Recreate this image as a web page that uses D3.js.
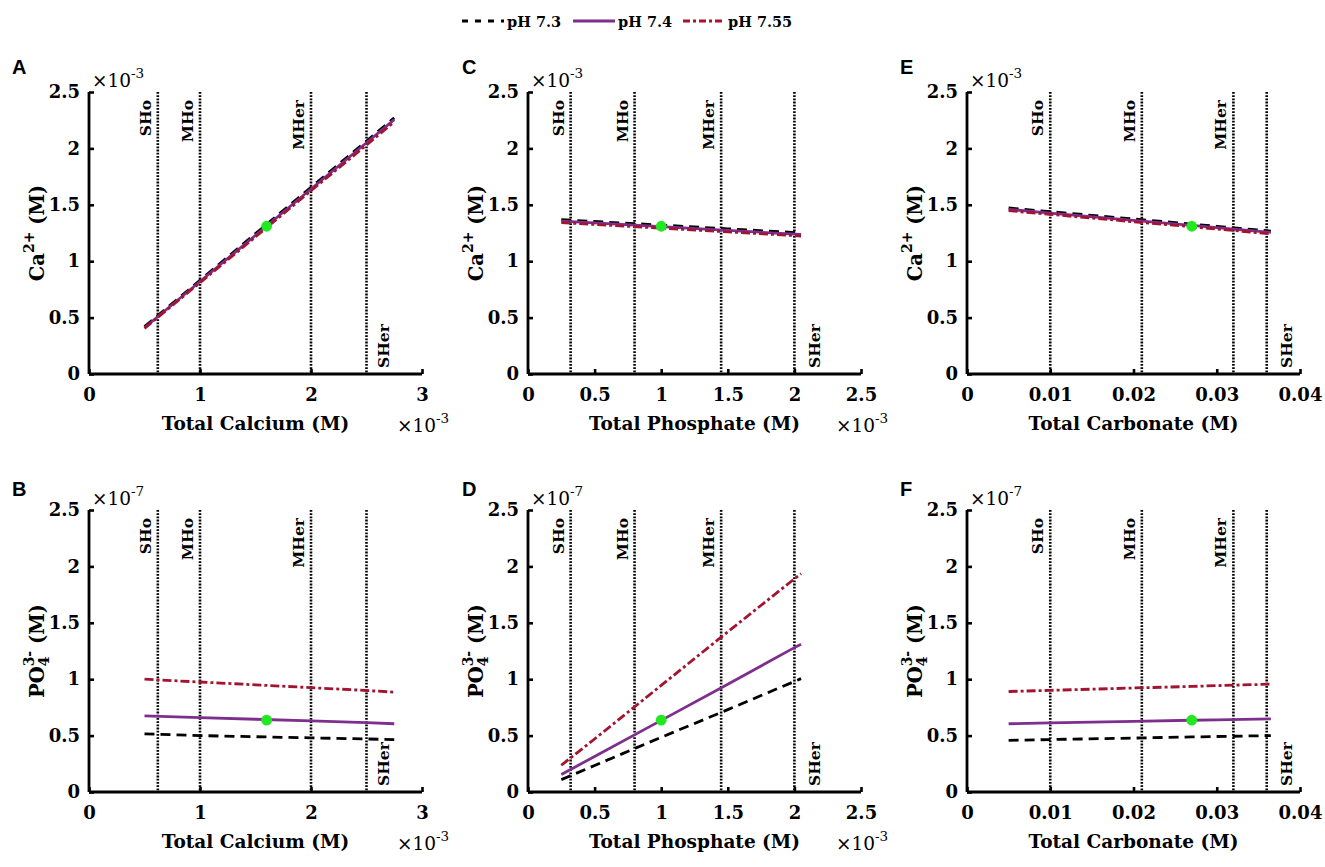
<!DOCTYPE html>
<html><head><meta charset="utf-8">
<script src="https://cdn.jsdelivr.net/npm/d3@7"></script>
<style>body{margin:0;background:#fff}</style>
</head><body>
<svg id="chart" width="1325" height="867"></svg>
<script>
// ---------- DATA ----------
const seriesNames = ["pH 7.3", "pH 7.4", "pH 7.55"];
const markerNames = ["SHo", "MHo", "MHer", "SHer"];

// x values (Calcium, Phosphate in 1e-3 M; Carbonate in M)
const totalCalcium   = [0.5, 1.0, 1.5, 2.0, 2.5, 2.75];
const totalPhosphate = [0.25, 0.5, 1.0, 1.5, 2.0, 2.05];
const totalCarbonate = [0.005, 0.01, 0.02, 0.027, 0.03, 0.0365];

// vertical marker positions
const calciumMarks   = [0.62, 1.0, 2.0, 2.5];
const phosphateMarks = [0.32, 0.8, 1.45, 2.0];
const carbonateMarks = [0.01, 0.021, 0.032, 0.036];

// A: Ca2+ (1e-3 M) vs Total Calcium
const caVsCalcium73  = [0.42, 0.83, 1.245, 1.655, 2.065, 2.27];
const caVsCalcium74  = [0.41, 0.82, 1.23, 1.64, 2.05, 2.255];
const caVsCalcium755 = [0.405, 0.81, 1.215, 1.625, 2.03, 2.235];
// B: PO4 3- (1e-7 M) vs Total Calcium
const po4VsCalcium73  = [0.515, 0.50, 0.49, 0.48, 0.47, 0.465];
const po4VsCalcium74  = [0.675, 0.66, 0.645, 0.63, 0.615, 0.605];
const po4VsCalcium755 = [1.0, 0.975, 0.95, 0.925, 0.90, 0.885];
// C: Ca2+ vs Total Phosphate
const caVsPhosphate73  = [1.368, 1.352, 1.32, 1.287, 1.254, 1.25];
const caVsPhosphate74  = [1.355, 1.339, 1.306, 1.273, 1.24, 1.237];
const caVsPhosphate755 = [1.342, 1.326, 1.293, 1.26, 1.227, 1.223];
// D: PO4 3- vs Total Phosphate
const po4VsPhosphate73  = [0.11, 0.235, 0.485, 0.73, 0.98, 1.005];
const po4VsPhosphate74  = [0.155, 0.315, 0.635, 0.955, 1.28, 1.31];
const po4VsPhosphate755 = [0.237, 0.47, 0.945, 1.42, 1.89, 1.935];
// E: Ca2+ vs Total Carbonate
const caVsCarbonate73  = [1.472, 1.439, 1.374, 1.329, 1.309, 1.267];
const caVsCarbonate74  = [1.46, 1.427, 1.362, 1.317, 1.297, 1.255];
const caVsCarbonate755 = [1.448, 1.415, 1.35, 1.305, 1.285, 1.243];
// F: PO4 3- vs Total Carbonate
const po4VsCarbonate73  = [0.458, 0.465, 0.478, 0.488, 0.492, 0.50];
const po4VsCarbonate74  = [0.605, 0.612, 0.626, 0.636, 0.64, 0.649];
const po4VsCarbonate755 = [0.891, 0.901, 0.922, 0.936, 0.943, 0.956];

// normal-condition points (green)
const normalCalcium = 1.6, normalPhosphate = 1.0, normalCarbonate = 0.027;
const normalCa = 1.31, normalPO4 = 0.637;

// axis ticks
const calciumTicks   = [0, 1, 2, 3];
const phosphateTicks = [0, 0.5, 1, 1.5, 2, 2.5];
const carbonateTicks = [0, 0.01, 0.02, 0.03, 0.04];
const yTicks         = [0, 0.5, 1, 1.5, 2, 2.5];

// ---------- STYLE / LAYOUT ----------
const colors = ["#000000", "#7E2F8E", "#A2142F"];
const dashes = ["10,6", null, "9,3,3,3"];
const lefts = [89, 528, 967], tops = [92, 510];
const W = 333, H = 282;
const serif = "'DejaVu Serif', serif";

const panels = [
  {id:"A", col:0, row:0, xs:totalCalcium, ys:[caVsCalcium73, caVsCalcium74, caVsCalcium755], dot:[normalCalcium, normalCa],
   xMax:3, xTicks:calciumTicks, marks:calciumMarks, xLabel:"Total Calcium (M)", yKind:"Ca", xExp:"-3", yExp:"-3", sherOff:22},
  {id:"B", col:0, row:1, xs:totalCalcium, ys:[po4VsCalcium73, po4VsCalcium74, po4VsCalcium755], dot:[normalCalcium, normalPO4],
   xMax:3, xTicks:calciumTicks, marks:calciumMarks, xLabel:"Total Calcium (M)", yKind:"PO4", xExp:"-3", yExp:"-7", sherOff:22},
  {id:"C", col:1, row:0, xs:totalPhosphate, ys:[caVsPhosphate73, caVsPhosphate74, caVsPhosphate755], dot:[normalPhosphate, normalCa],
   xMax:2.5, xTicks:phosphateTicks, marks:phosphateMarks, xLabel:"Total Phosphate (M)", yKind:"Ca", xExp:"-3", yExp:"-3", sherOff:26},
  {id:"D", col:1, row:1, xs:totalPhosphate, ys:[po4VsPhosphate73, po4VsPhosphate74, po4VsPhosphate755], dot:[normalPhosphate, normalPO4],
   xMax:2.5, xTicks:phosphateTicks, marks:phosphateMarks, xLabel:"Total Phosphate (M)", yKind:"PO4", xExp:"-3", yExp:"-7", sherOff:26},
  {id:"E", col:2, row:0, xs:totalCarbonate, ys:[caVsCarbonate73, caVsCarbonate74, caVsCarbonate755], dot:[normalCarbonate, normalCa],
   xMax:0.04, xTicks:carbonateTicks, marks:carbonateMarks, xLabel:"Total Carbonate (M)", yKind:"Ca", xExp:null, yExp:"-3", sherOff:25},
  {id:"F", col:2, row:1, xs:totalCarbonate, ys:[po4VsCarbonate73, po4VsCarbonate74, po4VsCarbonate755], dot:[normalCarbonate, normalPO4],
   xMax:0.04, xTicks:carbonateTicks, marks:carbonateMarks, xLabel:"Total Carbonate (M)", yKind:"PO4", xExp:null, yExp:"-7", sherOff:25},
];

const svg = d3.select("#chart");
svg.append("rect").attr("width",1325).attr("height",867).attr("fill","#fff");

function expLabel(g, x, y, exp) {
  const t = g.append("text").attr("x", x).attr("y", y)
    .attr("font-family", serif).attr("font-size", 18.5).attr("fill", "#000");
  t.append("tspan").text("\u00D710");
  t.append("tspan").attr("font-size", 13.5).attr("dy", -9).text(exp);
}

panels.forEach(p => {
  const L = lefts[p.col], T = tops[p.row];
  const g = svg.append("g").attr("transform", `translate(${L},${T})`);
  const x = d3.scaleLinear().domain([0, p.xMax]).range([0, W]);
  const y = d3.scaleLinear().domain([0, 2.5]).range([H, 0]);

  // vertical marker lines
  p.marks.forEach((m, i) => {
    g.append("line").attr("x1", x(m)).attr("x2", x(m)).attr("y1", 0).attr("y2", H)
      .attr("stroke", "#000").attr("stroke-width", 2.6).attr("stroke-dasharray", "1.8,1.4");
    const isLast = i === p.marks.length - 1;
    const tx = isLast ? x(m) + p.sherOff : x(m) - 7;
    const ty = isLast ? H - 6 : 8;
    g.append("text").attr("transform", `translate(${tx},${ty}) rotate(-90)`)
      .attr("text-anchor", isLast ? "start" : "end")
      .attr("font-family", serif).attr("font-weight", "bold").attr("font-size", 15.5)
      .text(markerNames[i]);
  });

  // series
  const line = d3.line().x((d, i) => x(p.xs[i])).y(d => y(d));
  p.ys.forEach((vals, k) => {
    g.append("path").datum(vals).attr("d", line)
      .attr("fill", "none").attr("stroke", colors[k]).attr("stroke-width", 2.8)
      .attr("stroke-dasharray", dashes[k]);
  });
  g.append("circle").attr("cx", x(p.dot[0])).attr("cy", y(p.dot[1])).attr("r", 5.4).attr("fill", "#22e822");

  // axes
  const xa = g.append("g").attr("transform", `translate(0,${H})`)
    .call(d3.axisBottom(x).tickValues(p.xTicks).tickSize(-5).tickPadding(14).tickFormat(d => String(d)));
  const ya = g.append("g")
    .call(d3.axisLeft(y).tickValues(yTicks).tickSize(-5).tickPadding(9).tickFormat(d => String(d)));
  [xa, ya].forEach(a => {
    a.select(".domain").attr("stroke", "#000").attr("stroke-width", 2.8).attr("d",
      a === xa ? `M0,0H${W}` : `M0,0V${H}`);
    a.selectAll(".tick line").attr("stroke", "#000").attr("stroke-width", 2.6);
    a.selectAll(".tick text").attr("font-family", serif).attr("font-weight", "bold")
      .attr("font-size", 18).attr("fill", "#000");
  });

  // x label
  g.append("text").attr("x", W / 2).attr("y", H + 56).attr("text-anchor", "middle")
    .attr("font-family", serif).attr("font-weight", "bold").attr("font-size", 18.5).text(p.xLabel);

  // exponent labels
  if (p.xExp) expLabel(g, W - 25, H + 58, p.xExp);
  expLabel(g, 3, -5, p.yExp);

  // y label
  const yl = g.append("g").attr("transform", `translate(${-45},${H / 2}) rotate(-90)`);
  const t = yl.append("text").attr("x", 0).attr("y", 0)
    .attr("font-family", serif).attr("font-weight", "bold").attr("font-size", 19.5).attr("fill", "#000");
  if (p.yKind === "Ca") {
    t.append("tspan").text("Ca");
    t.append("tspan").attr("font-size", 14).attr("dy", -10).text("2+");
    t.append("tspan").attr("dy", 10).text(" (M)");
  } else {
    t.append("tspan").text("PO");
    const sup = t.append("tspan").attr("font-size", 14).attr("dy", -10).text("3-");
    const w = sup.node().getComputedTextLength();
    const sub = t.append("tspan").attr("font-size", 14).attr("dx", -w).attr("dy", 15).text("4");
    const w4 = sub.node().getComputedTextLength();
    t.append("tspan").attr("dx", Math.max(0, w - w4)).attr("dy", -5).text(" (M)");
  }
  const bb = t.node().getBBox();
  t.attr("transform", `translate(${-(bb.x + bb.width / 2)},0)`);

  // panel letter
  svg.append("text").attr("x", [12, 462, 900][p.col]).attr("y", [74, 496][p.row])
    .attr("font-family", "'Liberation Sans', Arial, sans-serif").attr("font-weight", "bold")
    .attr("font-size", 20).text(p.id);
});

// legend
const legendX = [462, 573, 683];
seriesNames.forEach((n, k) => {
  const lx = legendX[k];
  svg.append("line").attr("x1", lx).attr("x2", lx + 42).attr("y1", 21).attr("y2", 21)
    .attr("stroke", colors[k]).attr("stroke-width", 2.8)
    .attr("stroke-dasharray", k === 0 ? "6,7" : (k === 2 ? "7,3,3,3" : null));
  svg.append("text").attr("x", lx + 45).attr("y", 27)
    .attr("font-family", serif).attr("font-weight", "bold").attr("font-size", 14.5).text(n);
});
</script>
</body></html>
